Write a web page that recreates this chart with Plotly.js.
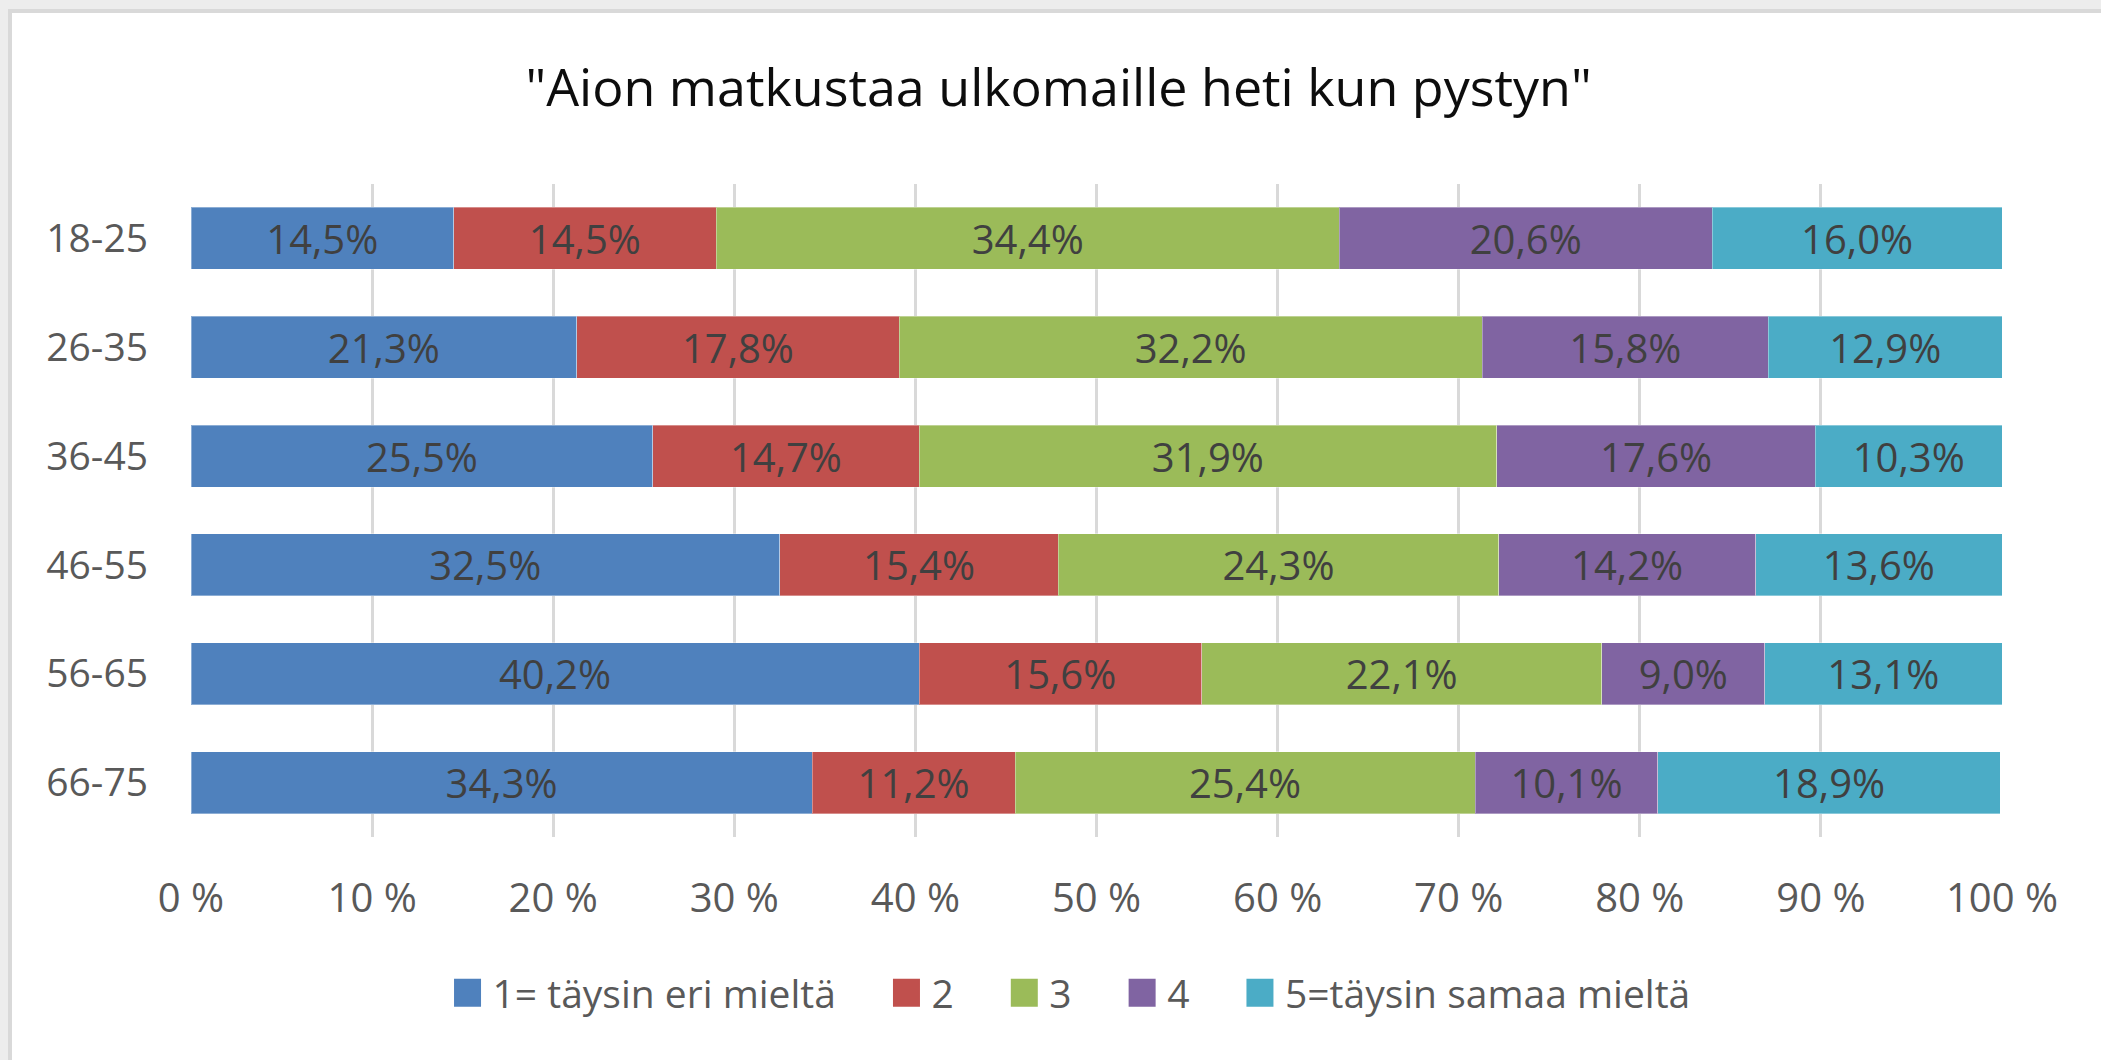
<!DOCTYPE html>
<html>
<head>
<meta charset="utf-8">
<script src="https://cdn.plot.ly/plotly-3.0.1.min.js"></script>
<style>
  html, body { margin: 0; padding: 0; background: #ededed; width: 2101px; height: 1060px; overflow: hidden; }
  #frame { position: absolute; left: 8px; top: 9px; border-left: 4px solid #d9d9d9; border-top: 4px solid #d9d9d9; background: #fff; }
  #chart { width: 2089px; height: 1047px; }
</style>
</head>
<body>
<div id="frame"><div id="chart"></div></div>
<script>
const categories = ["18-25", "26-35", "36-45", "46-55", "56-65", "66-75"];
const seriesNames = ["1= täysin eri mieltä", "2", "3", "4", "5=täysin samaa mieltä"];
const s1 = [14.5, 21.3, 25.5, 32.5, 40.2, 34.3];
const s2 = [14.5, 17.8, 14.7, 15.4, 15.6, 11.2];
const s3 = [34.4, 32.2, 31.9, 24.3, 22.1, 25.4];
const s4 = [20.6, 15.8, 17.6, 14.2, 9.0, 10.1];
const s5 = [16.0, 12.9, 10.3, 13.6, 13.1, 18.9];
const tickVals = [0, 10, 20, 30, 40, 50, 60, 70, 80, 90, 100];
const tickText = ["0 %", "10 %", "20 %", "30 %", "40 %", "50 %", "60 %", "70 %", "80 %", "90 %", "100 %"];
const colors = ["#4F81BD", "#C0504D", "#9BBB59", "#8064A2", "#4BACC6"];

const FONT = "'Open Sans', 'Noto Sans', sans-serif";
const fmt = v => v.toFixed(1).replace('.', ',') + '%';
const PAD = '\u00a0\u00a0\u00a0\u00a0';

const allSeries = [s1, s2, s3, s4, s5];
const traces = allSeries.map((vals, i) => ({
  type: 'bar',
  orientation: 'h',
  name: seriesNames[i] + (i < allSeries.length - 1 ? PAD : ''),
  y: categories,
  x: vals,
  text: vals.map(fmt),
  textposition: 'inside',
  insidetextanchor: 'middle',
  textangle: 0,
  constraintext: 'none',
  textfont: { family: FONT, size: 40, color: '#404040' },
  marker: { color: colors[i], line: { color: 'rgba(255,255,255,0.35)', width: 1 } },
  hoverinfo: 'skip'
}));

const layout = {
  width: 2089,
  height: 1047,
  barmode: 'stack',
  bargap: 0.43,
  paper_bgcolor: '#ffffff',
  plot_bgcolor: '#ffffff',
  margin: { l: 179, r: 99, t: 171, b: 223 },
  font: { family: FONT, color: '#595959' },
  title: {
    text: '"Aion matkustaa ulkomaille heti kun pystyn"',
    font: { family: FONT, size: 52, color: '#0d0d0d' },
    x: 0.501, xanchor: 'center', xref: 'container',
    y: 0.929, yanchor: 'middle', yref: 'container'
  },
  xaxis: {
    range: [0, 100],
    tickvals: tickVals,
    ticktext: tickText,
    showgrid: true,
    gridcolor: '#d9d9d9',
    gridwidth: 3,
    zeroline: false,
    showline: false,
    ticks: '',
    ticklabelstandoff: 34,
    tickfont: { family: FONT, size: 40, color: '#595959' },
    fixedrange: true
  },
  yaxis: {
    autorange: 'reversed',
    showgrid: false,
    zeroline: false,
    showline: false,
    ticks: '',
    ticklabelstandoff: 42,
    tickfont: { family: FONT, size: 39, color: '#595959' },
    fixedrange: true
  },
  showlegend: true,
  legend: {
    orientation: 'h',
    traceorder: 'normal',
    x: 0.506, xanchor: 'center', xref: 'container',
    y: 0.064, yanchor: 'middle', yref: 'container',
    font: { family: FONT, size: 39, color: '#595959' },
    itemwidth: 40
  }
};

Plotly.newPlot('chart', traces, layout, { displayModeBar: false, staticPlot: true }).then(gd => {
  gd.querySelectorAll('.legend .legendpoints path').forEach(p => {
    p.setAttribute('d', 'M13.5,14H-13.5V-14H13.5Z');
    p.style.strokeWidth = '0px';
  });
});
</script>
</body>
</html>
